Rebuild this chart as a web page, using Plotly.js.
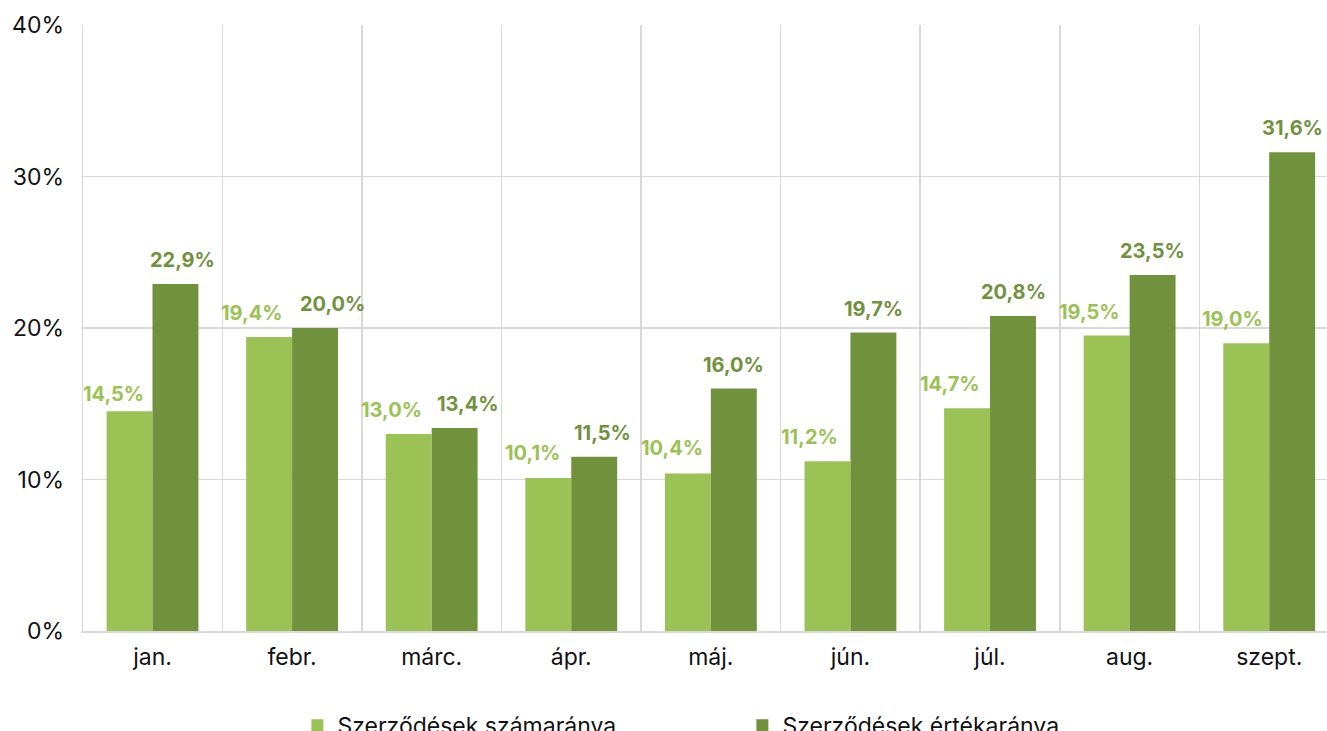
<!DOCTYPE html>
<html>
<head>
<meta charset="utf-8">
<script src="https://cdn.plot.ly/plotly-3.0.1.min.js"></script>
<style>
html,body{margin:0;padding:0;overflow:hidden;background:#fff;}
#chart{width:1345px;height:760px;}
</style>
</head>
<body>
<div id="chart"></div>
<script>
const months = ["jan.","febr.","márc.","ápr.","máj.","jún.","júl.","aug.","szept."];
const countShare = [14.5,19.4,13.0,10.1,10.4,11.2,14.7,19.5,19.0];
const valueShare = [22.9,20.0,13.4,11.5,16.0,19.7,20.8,23.5,31.6];
const seriesNames = ["Szerződések számaránya","Szerződések értékaránya"];
const colors = ["#9BC254","#70923C"];
// label offsets (px) relative to bar centre
const countLabelDx = [-16,-17,-17,-16,-16,-18,-17,-17,-14];
const valueLabelDx = [7,17,13,8,0,0,0,0,0];
const countLabelDy = [17,24,24,25,25,24,24,24,24];
const valueLabelDy = [24,24,24,24,24,24,24,24,24];

const fmt = v => v.toFixed(1).replace('.', ',') + '%';
const halfBar = 23;

const traces = [
  {type:'bar', x:months, y:countShare, name:seriesNames[0], marker:{color:colors[0]}, hoverinfo:'skip'},
  {type:'bar', x:months, y:valueShare, name:seriesNames[1], marker:{color:colors[1]}, hoverinfo:'skip'}
];

const annotations = [];
months.forEach((m,i)=>{
  annotations.push({x:m, y:countShare[i], xref:'x', yref:'y', text:fmt(countShare[i]), showarrow:false,
    xanchor:'center', yanchor:'middle', xshift:-halfBar+countLabelDx[i], yshift:countLabelDy[i],
    font:{family:'Inter', size:20, weight:700, color:colors[0]}});
  annotations.push({x:m, y:valueShare[i], xref:'x', yref:'y', text:fmt(valueShare[i]), showarrow:false,
    xanchor:'center', yanchor:'middle', xshift:halfBar+valueLabelDx[i], yshift:valueLabelDy[i],
    font:{family:'Inter', size:20, weight:700, color:colors[1]}});
});

const layout = {
  width:1345, height:760,
  margin:{l:81, r:6, t:25, b:129},
  paper_bgcolor:'#fff', plot_bgcolor:'#fff',
  barmode:'group', bargap:0.342, bargroupgap:0,
  font:{family:'Inter', size:23, color:'#111'},
  xaxis:{type:'category', tickson:'boundaries', showgrid:true, gridcolor:'#d9d9d9', gridwidth:1.5,
    ticks:'', showline:true, linecolor:'#d9d9d9', linewidth:1.5, ticklabelstandoff:5,
    tickfont:{family:'Inter', size:23, color:'#111'}, fixedrange:true},
  yaxis:{range:[0,40], dtick:10, ticksuffix:'%', showgrid:true, gridcolor:'#d9d9d9', gridwidth:1.5,
    zeroline:false, showline:false, ticks:'', ticklabelstandoff:16,
    tickfont:{family:'Inter', size:23, color:'#111'}, fixedrange:true},
  showlegend:true,
  legend:{orientation:'h', x:0.172, xanchor:'left', y:-0.12, yanchor:'top', entrywidth:400, entrywidthmode:'pixels',
    font:{family:'Inter', size:23, color:'#111'}, traceorder:'normal'},
  annotations:annotations
};

Plotly.newPlot('chart', traces, layout, {displayModeBar:false, staticPlot:true});
</script>
</body>
</html>
